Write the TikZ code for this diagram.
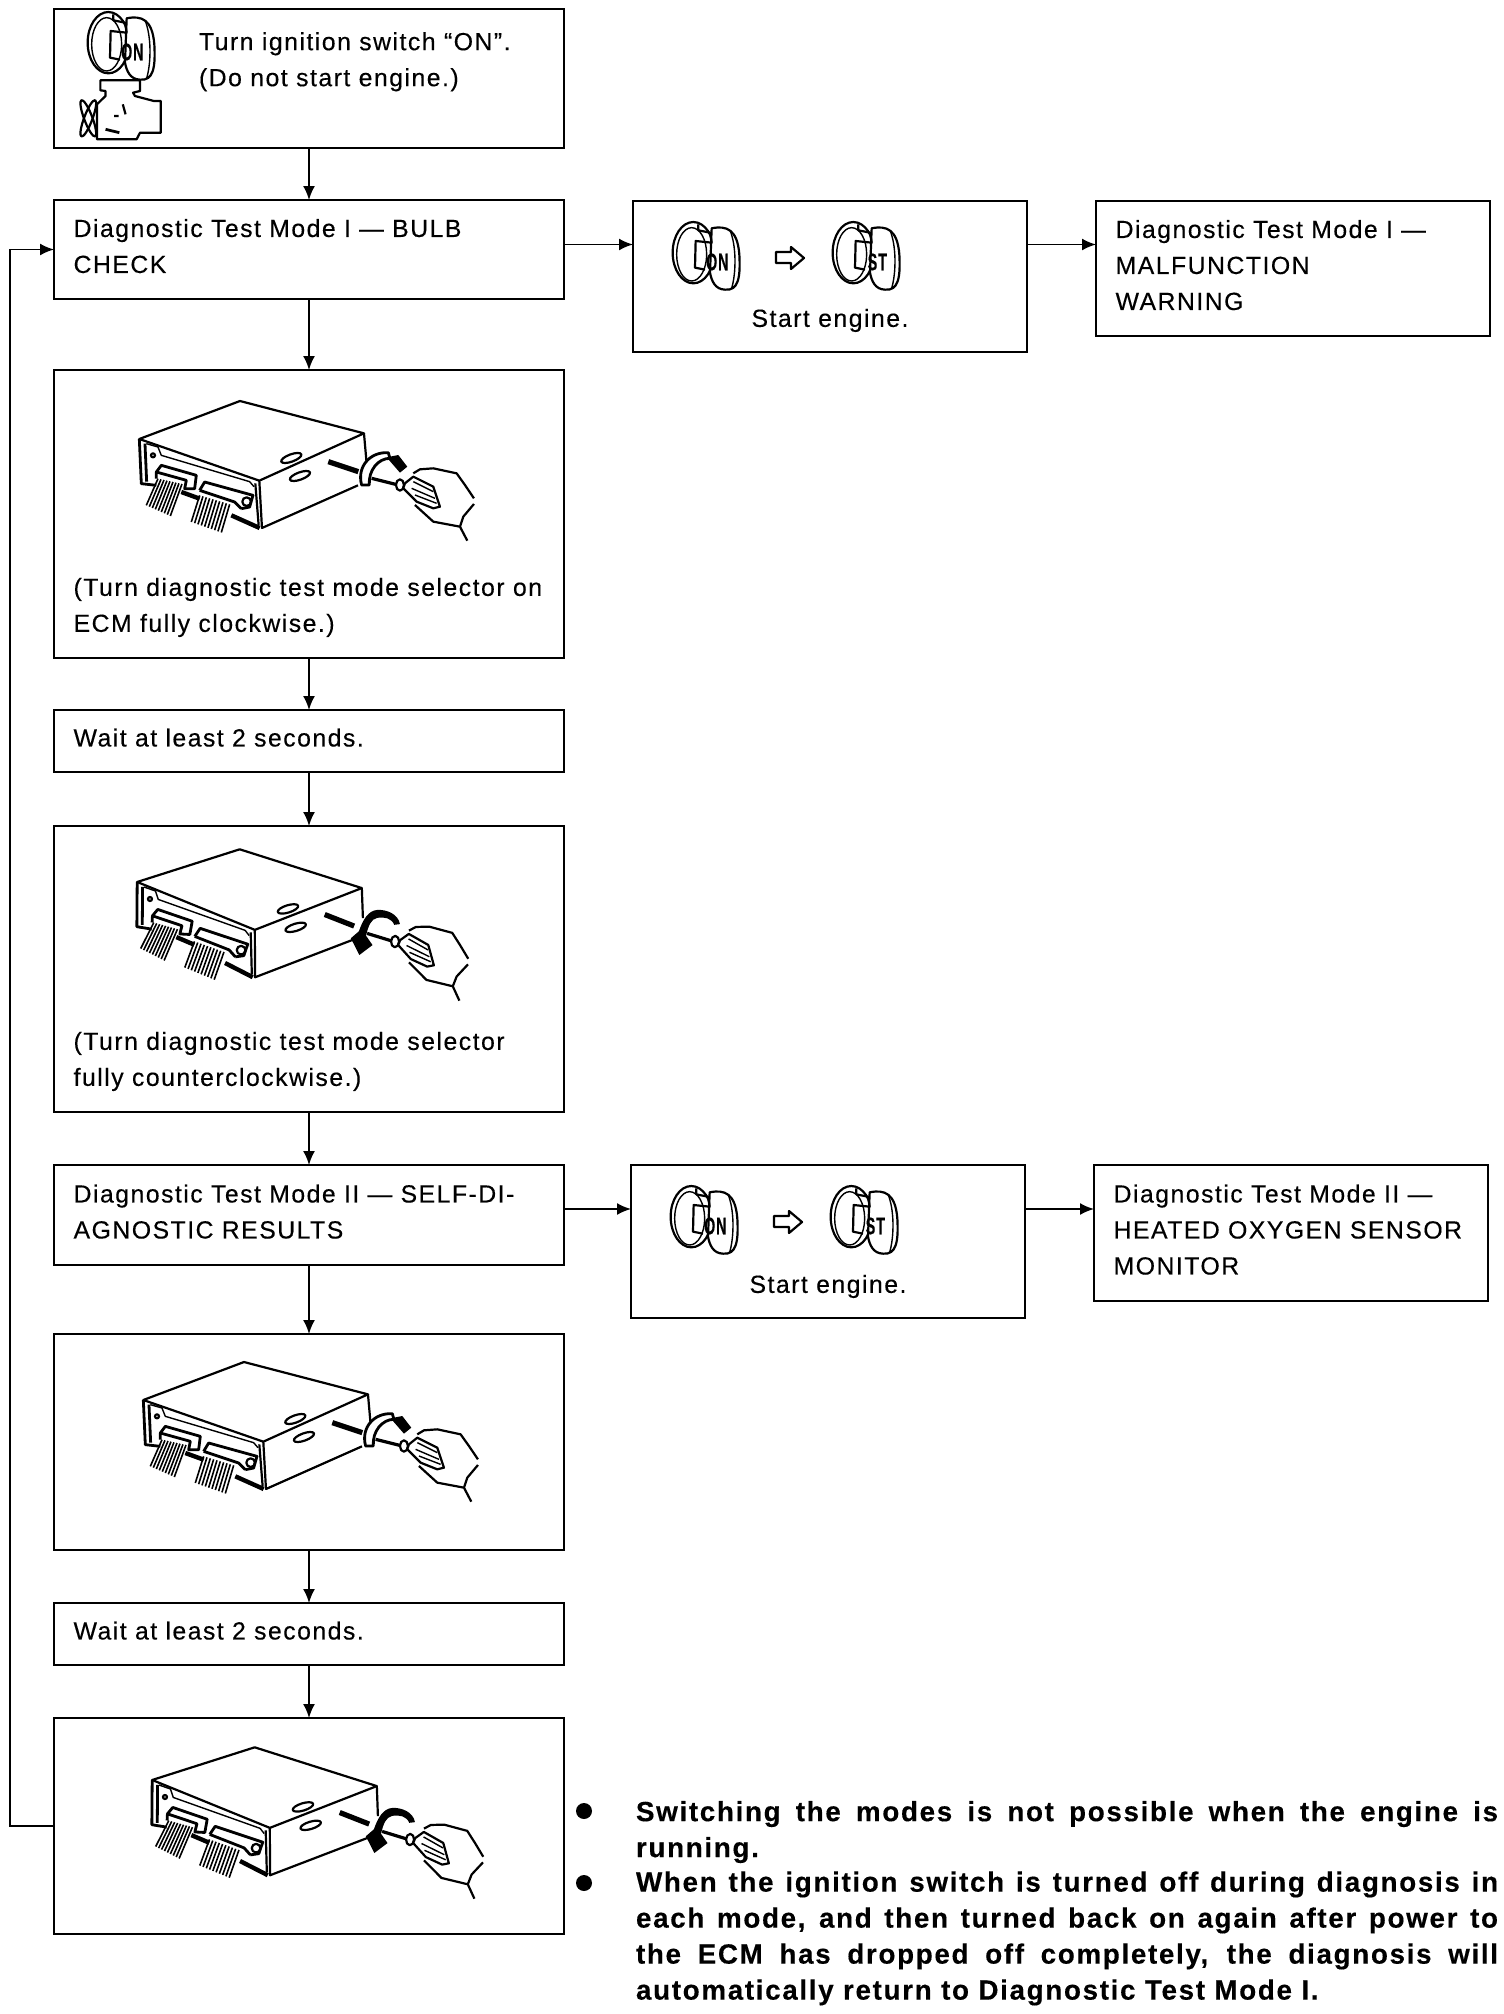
\documentclass[tikz,border=0pt]{standalone}
\usepackage{fontspec}
\setmainfont{Liberation Sans}[LetterSpace=6,FakeBold=0.3]
\usetikzlibrary{arrows.meta,positioning,calc}
\newcommand{\stepgap}{\endgraf\vspace*{3.4pt}}

\begin{document}
\begin{tikzpicture}[
  x=0.5pt,y=-0.5pt,
  font=\fontsize{12.4}{18}\selectfont,
  stepbox/.style={draw,line width=1.3pt,outer sep=0pt,minimum width=255pt,text width=235.4pt,inner xsep=9.8pt,inner ysep=0pt,align=left,execute at end node=\stepgap},
  sidebox/.style={stepbox,minimum width=197pt,text width=177.4pt},
  boxlabel/.style={inner sep=0pt,outer sep=0pt,align=left},
  notetext/.style={inner sep=0pt,outer sep=0pt,text width=431pt,align=justify,font=\fontsize{13.9}{18}\selectfont\bfseries},
  notemark/.style={circle,fill=black,inner sep=0pt,minimum size=8pt},
  keylabel/.style={inner sep=0pt,xscale=0.6,font=\fontsize{12}{12}\selectfont\bfseries},
  arrow/.style={-{Latex[length=7pt,width=6pt]},line width=0.9pt},
  inkline/.style={line width=1.1pt,line join=round},
  thinink/.style={line width=0.7pt,line join=round},
  keyswitch/.pic={
    \begin{scope}[scale=0.3333]
      \draw[inkline] (190,185) ellipse [x radius=62,y radius=92];
      \draw[thinink] (185,190) ellipse [x radius=45,y radius=80];
      \draw[inkline,fill=white] (245,112) .. controls (290,103) and (322,115) .. (328,190) .. controls (332,260) and (325,300) .. (285,296) .. controls (255,295) and (245,270) .. (240,245) -- cycle;
      \draw[thinink] (300,118) .. controls (318,160) and (320,240) .. (305,292);
      \draw[inkline] (205,100) -- (205,118) -- (240,125) -- (245,155) -- (197,150) -- (195,230) -- (225,236);
      \node[keylabel] (label) at (262,213) {#1};
    \end{scope}
  },
  enginebody/.pic={
    \begin{scope}[xscale=0.345,yscale=0.3333]
      \draw[inkline] (175,238) -- (290,238) -- (290,270) -- (270,275) -- (275,285) -- (330,300) -- (350,300) -- (350,395) -- (290,395) -- (280,415) -- (165,415) -- (165,310) -- (190,285) -- (190,270) -- (175,268) -- cycle;
      \draw[inkline] (140,352) ellipse [x radius=12,y radius=58,rotate=20];
      \draw[inkline] (140,352) ellipse [x radius=12,y radius=58,rotate=-20];
      \draw[inkline] (215,345) -- (228,345) (240,310) -- (248,340);
      \draw[line width=1.4pt] (190,385) -- (230,395);
    \end{scope}
  },
  ecmunit/.pic={
    \begin{scope}[scale=0.3333]
      % top and side
      \draw[inkline,fill=white] (268,207) -- (570,93) -- (942,190) -- (628,332) -- cycle;
      \draw[inkline] (942,190) -- (950,280) (924,346) -- (636,474) -- (628,332) (616,340) -- (626,466);
      \draw[inkline] (724,264) ellipse [x radius=32,y radius=11,rotate=20];
      \draw[inkline] (750,318) ellipse [x radius=32,y radius=11,rotate=20];
      % front
      \draw[line width=1.4pt,line join=round] (268,207) -- (274,341) -- (319,346) (285,221) -- (290,335);
      \draw[thinink] (289,221) -- (324,231) -- (334,256) -- (599,335) -- (612,350);
      \draw[inkline] (309,256) circle [radius=6];
      \draw[line width=1.4pt,line join=round] (319,306) -- (334,286) -- (439,316) -- (434,356) -- (404,356) -- (409,331) -- (319,306) -- (319,326);
      \draw[line width=1.4pt,line join=round] (449,361) -- (464,336) -- (609,376) -- (599,411) -- (574,416) (449,361) -- (554,396) -- (574,416);
      \draw[inkline] (590,395) circle [radius=13];
      \draw[line width=2.2pt] (394,366) -- (449,386) (544,436) -- (629,474);
      % wires
      \foreach \wire in {0,...,8}
        \draw[line width=0.8pt] (324+\wire*9,326+\wire*2) -- ++(-35,80+\wire*2);
      \foreach \wire in {0,...,9}
        \draw[line width=0.8pt] (449+\wire*10,376+\wire*3) -- ++(-25,80+\wire*.5);
      % driver and hand
      \draw[line width=2.6pt] (835,275) -- (925,305);
      \draw[line width=1.6pt] (965,325) -- (1045,345);
      \draw[inkline,fill=white] (1050,345) ellipse [x radius=12,y radius=17];
      \draw[inkline] (1090,310) -- (1110,298) -- (1150,295) -- (1220,310) -- (1245,345) -- (1272,385) (1272,402) -- (1240,440) -- (1230,470) -- (1252,512) (1230,470) -- (1150,455) -- (1095,405);
      \draw[inkline,fill=white] (1065,340) -- (1090,320) -- (1150,350) -- (1170,410) -- (1150,415) -- (1100,395) -- (1060,355) -- cycle;
      \draw[thinink] (1090,335) -- (1150,365) (1085,355) -- (1155,385) (1095,375) -- (1160,400);
    \end{scope}
  },
  turncw/.pic={
    \begin{scope}[scale=0.3333]
      \draw[line width=1.4pt,line join=round,fill=white] (935,345) .. controls (920,290) and (960,245) .. (1015,248) -- (1020,265) .. controls (985,265) and (955,300) .. (958,345) -- cycle;
      \fill (1010,262) -- (1045,255) -- (1072,290) -- (1050,308) -- cycle;
    \end{scope}
  },
  turnccw/.pic={
    \begin{scope}[scale=0.3333]
      \fill (1062,292) .. controls (1055,262) and (1020,250) .. (992,253) .. controls (965,256) and (950,285) .. (940,320) -- (917,342) -- (945,391) -- (983,359) -- (962,332) .. controls (968,300) and (975,282) .. (992,277) .. controls (1015,272) and (1035,275) .. (1045,295) -- cycle;
    \end{scope}
  }
]
  \useasboundingbox (0,0) rectangle (1504,2014);

  \node[stepbox,minimum height=69.5pt] (init) at (309,78.5) {};
  \node[stepbox,minimum height=49.5pt,below=26pt of init] (bulb) {Diagnostic Test Mode I — BULB\\CHECK};
  \node[stepbox,minimum height=144pt,below=35.5pt of bulb] (selecta) {};
  \node[stepbox,minimum height=31pt,below=26pt of selecta] (waita) {Wait at least 2 seconds.};
  \node[stepbox,minimum height=143pt,below=27pt of waita] (selectb) {};
  \node[stepbox,minimum height=50pt,below=26.5pt of selectb] (selfdiag) {Diagnostic Test Mode II — SELF-DI-\\AGNOSTIC RESULTS};
  \node[stepbox,minimum height=108pt,below=34.5pt of selfdiag] (selectc) {};
  \node[stepbox,minimum height=31pt,below=26.5pt of selectc] (waitb) {Wait at least 2 seconds.};
  \node[stepbox,minimum height=108pt,below=26.5pt of waitb] (selectd) {};

  \node[sidebox,minimum height=75.5pt,below right=0.5pt and 34.5pt of bulb.north east] (startbulb) {};
  \node[sidebox,minimum height=67.5pt,below right=0pt and 34.5pt of startbulb.north east] (malfunction) {Diagnostic Test Mode I —\\MALFUNCTION\\WARNING};
  \node[sidebox,minimum height=76.5pt,below right=0pt and 33.5pt of selfdiag.north east] (startdiag) {};
  \node[sidebox,minimum height=68pt,below right=0pt and 34.5pt of startdiag.north east] (oxygen) {Diagnostic Test Mode II —\\HEATED OXYGEN SENSOR\\MONITOR};

  \node[boxlabel,below right=11.6pt and 72.5pt of init.north west] (initlabel) {Turn ignition switch ``ON''.\\(Do not start engine.)};
  \node[boxlabel,above right=10.5pt and 9.8pt of selecta.south west] (selectalabel) {(Turn diagnostic test mode selector on\\ECM fully clockwise.)};
  \node[boxlabel,above right=10.5pt and 9.8pt of selectb.south west] (selectblabel) {(Turn diagnostic test mode selector\\fully counterclockwise.)};
  \node[boxlabel,above=10pt of startbulb.south] (startbulblabel) {Start engine.};
  \node[boxlabel,above=10pt of startdiag.south] (startdiaglabel) {Start engine.};

  \pic (keya) at ($(init.north west)+(-9,-28)$) {keyswitch=ON};
  \pic (motor) at ($(init.north west)+(-14,-8)$) {enginebody};
  \pic (keyb) at ($(startbulb.north west)+(-3,-10)$) {keyswitch=ON};
  \pic (keyc) at ($(startbulb.north west)+(157,-10)$) {keyswitch=ST};
  \pic (keyd) at ($(startdiag.north west)+(-3,-10)$) {keyswitch=ON};
  \pic (keye) at ($(startdiag.north west)+(157,-10)$) {keyswitch=ST};
  \draw[inkline] ($(startbulb.north west)+(143,51)$) -- ++(15,0) -- ++(0,-5) -- ++(13,11) -- ++(-13,11) -- ++(0,-6) -- ++(-15,0) -- cycle;
  \draw[inkline] ($(startdiag.north west)+(143,51)$) -- ++(15,0) -- ++(0,-5) -- ++(13,11) -- ++(-13,11) -- ++(0,-6) -- ++(-15,0) -- cycle;

  \pic (ecma) at ($(selecta.north west)+(-4,0)$) {ecmunit};
  \pic (turna) at ($(selecta.north west)+(-4,0)$) {turncw};
  \pic[rotate=-3] (ecmb) at ($(selectb.north west)+(-2.4,-17.6)$) {ecmunit};
  \pic[rotate=-3] (turnb) at ($(selectb.north west)+(-2.4,-17.6)$) {turnccw};
  \pic (ecmc) at ($(selectc.north west)+(0,-3)$) {ecmunit};
  \pic (turnc) at ($(selectc.north west)+(0,-3)$) {turncw};
  \pic[rotate=-3] (ecmd) at ($(selectd.north west)+(12.6,-11.6)$) {ecmunit};
  \pic[rotate=-3] (turnd) at ($(selectd.north west)+(12.6,-11.6)$) {turnccw};

  \coordinate[above=2.5pt of bulb.east] (bulbexit);
  \coordinate[above=3pt of selfdiag.east] (selfdiagexit);

  \draw[arrow] (init) -- (bulb);
  \draw[arrow] (bulb) -- (selecta);
  \draw[arrow] (selecta) -- (waita);
  \draw[arrow] (waita) -- (selectb);
  \draw[arrow] (selectb) -- (selfdiag);
  \draw[arrow] (selfdiag) -- (selectc);
  \draw[arrow] (selectc) -- (waitb);
  \draw[arrow] (waitb) -- (selectd);
  \draw[arrow] (bulbexit) -- (bulbexit -| startbulb.west);
  \draw[arrow] (bulbexit -| startbulb.east) -- (bulbexit -| malfunction.west);
  \draw[arrow] (selfdiagexit) -- (selfdiagexit -| startdiag.west);
  \draw[arrow] (selfdiagexit -| startdiag.east) -- (selfdiagexit -| oxygen.west);
  \draw[arrow] (selectd.west) -- ++(-22pt,0) |- (bulb.west);

  \node[notetext,anchor=north west] (notea) at (636,1801) {Switching the modes is not possible when the engine is\linebreak running.};
  \node[notetext,below=4.2pt of notea] (noteb) {When the ignition switch is turned off during diagnosis in\linebreak each mode, and then turned back on again after power to\linebreak the ECM has dropped off completely, the diagnosis will\linebreak automatically return to Diagnostic Test Mode I.};
  \node[notemark] (markera) at (584,1811) {};
  \node[notemark] (markerb) at (584,1883) {};
\end{tikzpicture}
\end{document}
